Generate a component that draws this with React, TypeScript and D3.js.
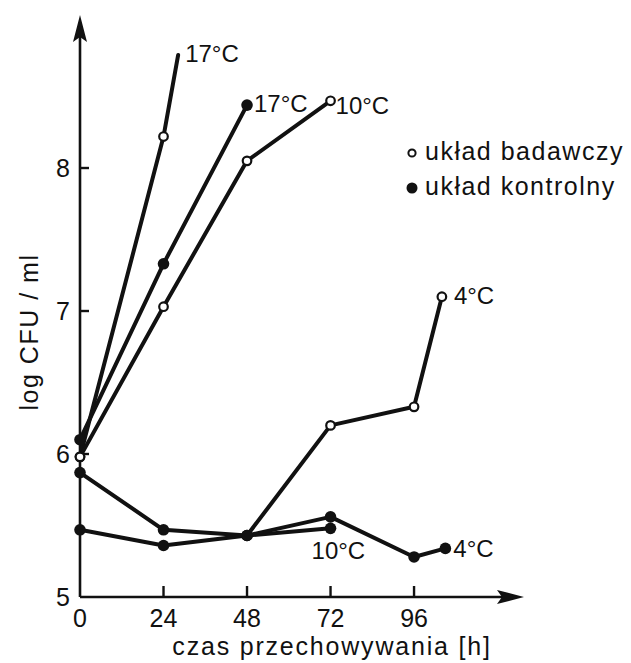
import React from "react";
import * as d3 from "d3";

// ---- data ----
const xTicks = [0, 24, 48, 72, 96];
const yTicks = [5, 6, 7, 8];
const xTitle = "czas przechowywania [h]";
const yTitle = "log CFU / ml";
const legendLabels = ["układ badawczy", "układ kontrolny"];

// układ badawczy (open markers)
const open17Hours = [0, 24, 28.2];
const open17Values = [5.98, 8.22, 8.79];
const open10Hours = [0, 24, 48, 72];
const open10Values = [5.98, 7.03, 8.05, 8.47];
const open4Hours = [48, 72, 96, 104];
const open4Values = [5.43, 6.2, 6.33, 7.1];

// układ kontrolny (filled markers)
const fill17Hours = [0, 24, 48];
const fill17Values = [6.1, 7.33, 8.44];
const fill10Hours = [0, 24, 48, 72];
const fill10Values = [5.47, 5.36, 5.43, 5.48];
const fill4Hours = [0, 24, 48, 72, 96, 105];
const fill4Values = [5.87, 5.47, 5.43, 5.56, 5.28, 5.34];

const seriesLabels = ["17°C", "10°C", "4°C", "17°C", "10°C", "4°C"];

type Series = {
  hours: number[];
  values: number[];
  filled: boolean;
  label: string;
  markLast: boolean;
  dx: number;
  dy: number;
};

const series: Series[] = [
  { hours: open17Hours, values: open17Values, filled: false, label: seriesLabels[0], markLast: false, dx: 7, dy: 7 },
  { hours: open10Hours, values: open10Values, filled: false, label: seriesLabels[1], markLast: true, dx: 5, dy: 13 },
  { hours: open4Hours, values: open4Values, filled: false, label: seriesLabels[2], markLast: true, dx: 12, dy: 7 },
  { hours: fill17Hours, values: fill17Values, filled: true, label: seriesLabels[3], markLast: true, dx: 7, dy: 7 },
  { hours: fill10Hours, values: fill10Values, filled: true, label: seriesLabels[4], markLast: true, dx: -19, dy: 31 },
  { hours: fill4Hours, values: fill4Values, filled: true, label: seriesLabels[5], markLast: true, dx: 8, dy: 9 },
];

const W = 631;
const H = 663;
const FONT = "'Liberation Sans', Arial, sans-serif";

export default function App() {
  const x = d3.scaleLinear().domain([0, 127.6]).range([80, 524]);
  const y = d3.scaleLinear().domain([5, 9.07]).range([597, 15]);
  const line = d3
    .line<[number, number]>()
    .x((d) => x(d[0]))
    .y((d) => y(d[1]));

  const x0 = x(0);
  const y0 = y(5);
  const xEnd = x(127.6);
  const yEnd = y(9.07);

  return (
    <svg
      width={W}
      height={H}
      viewBox={`0 0 ${W} ${H}`}
      style={{ position: "absolute", left: 0, top: 0, background: "#fff" }}
    >
      <rect x={0} y={0} width={W} height={H} fill="#fff" />
      {/* axes */}
      <g stroke="#111" strokeWidth={2.6} fill="none">
        <line x1={x0} y1={y0} x2={x0} y2={yEnd + 20} />
        <line x1={x0} y1={y0} x2={xEnd - 20} y2={y0} />
      </g>
      <path
        d={`M${x0},${yEnd} L${x0 - 7},${yEnd + 27} L${x0},${yEnd + 22} L${x0 + 7},${yEnd + 27} Z`}
        fill="#111"
      />
      <path
        d={`M${xEnd},${y0} L${xEnd - 27},${y0 - 7} L${xEnd - 22},${y0} L${xEnd - 27},${y0 + 7} Z`}
        fill="#111"
      />
      {/* y ticks */}
      {yTicks.map((t) => (
        <g key={"yt" + t}>
          {t > 5 && <line x1={x0} x2={x0 + 9} y1={y(t)} y2={y(t)} stroke="#111" strokeWidth={2.4} />}
          <text
            x={70}
            y={y(t) + 9}
            textAnchor="end"
            fontFamily={FONT}
            fontSize={25}
            fill="#111"
          >
            {t}
          </text>
        </g>
      ))}
      {/* x ticks */}
      {xTicks.map((t) => (
        <g key={"xt" + t}>
          {t > 0 && <line x1={x(t)} x2={x(t)} y1={y0} y2={y0 - 11} stroke="#111" strokeWidth={2.4} />}
          <text
            x={x(t)}
            y={627}
            textAnchor="middle"
            fontFamily={FONT}
            fontSize={25}
            fill="#111"
          >
            {t}
          </text>
        </g>
      ))}
      {/* axis titles */}
      <text
        x={332}
        y={655}
        textAnchor="middle"
        fontFamily={FONT}
        fontSize={25}
        letterSpacing={1.8}
        fill="#111"
      >
        {xTitle}
      </text>
      <text
        transform={`translate(38,332) rotate(-90)`}
        textAnchor="middle"
        fontFamily={FONT}
        fontSize={25}
        letterSpacing={1.5}
        fill="#111"
      >
        {yTitle}
      </text>
      {/* lines */}
      {series.map((s, i) => (
        <path
          key={"l" + i}
          d={line(s.hours.map((h, j) => [h, s.values[j]] as [number, number])) || ""}
          fill="none"
          stroke="#111"
          strokeWidth={4}
          strokeLinejoin="round"
          strokeLinecap="round"
        />
      ))}
      {/* markers: open first, filled on top */}
      {series
        .filter((s) => !s.filled)
        .map((s, i) =>
          s.hours.map((h, j) =>
            j === s.hours.length - 1 && !s.markLast ? null : (
              <circle
                key={`o${i}-${j}`}
                cx={x(h)}
                cy={y(s.values[j])}
                r={4.3}
                fill="#fff"
                stroke="#111"
                strokeWidth={2.2}
              />
            )
          )
        )}
      {series
        .filter((s) => s.filled)
        .map((s, i) =>
          s.hours.map((h, j) => (
            <circle key={`f${i}-${j}`} cx={x(h)} cy={y(s.values[j])} r={5.8} fill="#111" />
          ))
        )}
      {/* series labels */}
      {series.map((s, i) => {
        const n = s.hours.length - 1;
        return (
          <text
            key={"t" + i}
            x={x(s.hours[n]) + s.dx}
            y={y(s.values[n]) + s.dy}
            fontFamily={FONT}
            fontSize={24}
            fill="#111"
          >
            {s.label}
          </text>
        );
      })}
      {/* legend */}
      <circle cx={412} cy={153} r={3.6} fill="#fff" stroke="#111" strokeWidth={2} />
      <text x={425} y={160} fontFamily={FONT} fontSize={25} letterSpacing={1.5} fill="#111">
        {legendLabels[0]}
      </text>
      <circle cx={412} cy={188} r={5.5} fill="#111" />
      <text x={425} y={195} fontFamily={FONT} fontSize={25} letterSpacing={1.5} fill="#111">
        {legendLabels[1]}
      </text>
    </svg>
  );
}
